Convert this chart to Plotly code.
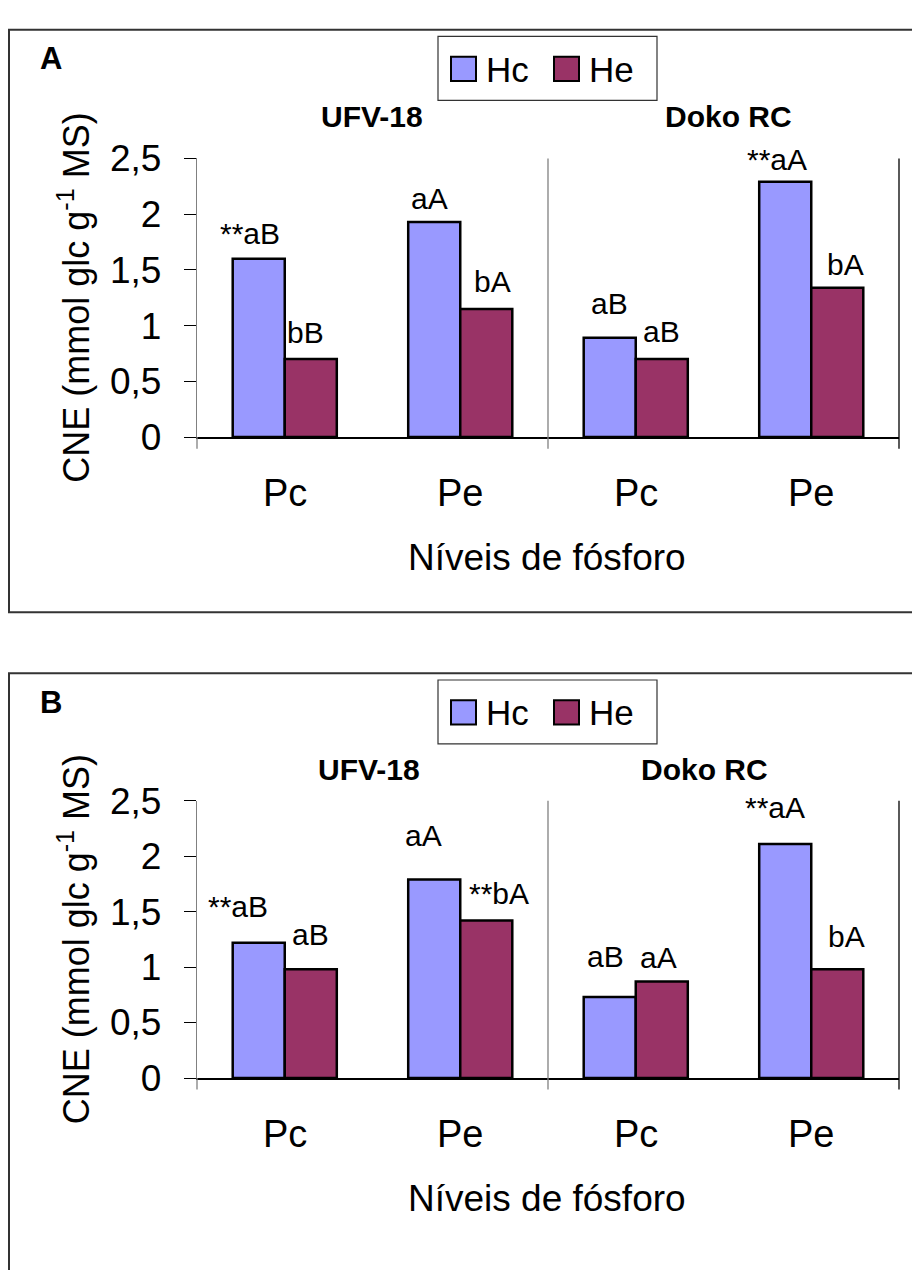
import plotly.graph_objects as go

W, H = 912, 1270

# ---------------- data ----------------
categories = ["Pc", "Pe", "Pc", "Pe"]
genotypes = ["UFV-18", "Doko RC"]
series_names = ["Hc", "He"]
panel_names = ["A", "B"]

a_hc = [1.60, 1.93, 0.89, 2.29]
a_he = [0.70, 1.15, 0.70, 1.34]
b_hc = [1.22, 1.79, 0.73, 2.11]
b_he = [0.98, 1.42, 0.87, 0.98]

a_hc_lab = ["**aB", "aA", "aB", "**aA"]
a_he_lab = ["bB", "bA", "aB", "bA"]
b_hc_lab = ["**aB", "aA", "aB", "**aA"]
b_he_lab = ["aB", "**bA", "aA", "bA"]

y_tickvals = [0, 0.5, 1, 1.5, 2, 2.5]
y_ticktext = ["0", "0,5", "1", "1,5", "2", "2,5"]

y_title = "CNE (mmol glc g<sup>-1</sup> MS)"
x_title = "Níveis de fósforo"

# ---------------- styles ----------------
COL_HC = "#9999FF"
COL_HE = "#993366"
FONT = "Arial, 'Liberation Sans', sans-serif"
BARGAP = 0.407
LAB_FS = 30

# label nudges (pixels): (dx, gap above bar)
a_hc_nudge = [(3, 15), (-5, 13), (0, 24), (3, 12)]
a_he_nudge = [(-5, 16), (6, 17), (0, 17), (8, 13)]
b_hc_nudge = [(-9, 26), (-11, 33), (-4, 30), (1, 26)]
b_he_nudge = [(0, 24), (24, 16), (-3, 13), (9, 22)]


def px(x):
    return x / W


def py(y):
    return 1 - y / H


panels = [
    dict(hc=a_hc, he=a_he, hcl=a_hc_lab, hel=a_he_lab, hcn=a_hc_nudge, hen=a_he_nudge,
         top=143, bot=431, box=(9, 10, 1000, 612), leg_top=17, glab_y=100,
         glab_x=[372, 728], letter_y=40),
    dict(hc=b_hc, he=b_he, hcl=b_hc_lab, hel=b_he_lab, hcn=b_hc_nudge, hen=b_he_nudge,
         top=806.7, bot=1093.3, box=(9, 675, 1000, 1300), leg_top=682, glab_y=775,
         glab_x=[369, 704], letter_y=705),
]

XL, XR = 197, 899

fig = go.Figure()
annotations = []
shapes = []
xpos = list(range(len(categories)))
half = (1 - BARGAP) / 4

for k, p in enumerate(panels):
    sfx = "" if k == 0 else str(k + 1)
    xa, ya = "x" + sfx, "y" + sfx
    for name, vals, col in [(series_names[0], p["hc"], COL_HC), (series_names[1], p["he"], COL_HE)]:
        fig.add_trace(go.Bar(
            x=xpos, y=vals, name=name, xaxis=xa, yaxis=ya, showlegend=False,
            marker=dict(color=col, line=dict(color="black", width=2.5)),
        ))

    dom_y = [py(p["bot"]), py(p["top"])]
    fig.update_layout(**{
        "xaxis" + sfx: dict(
            domain=[px(XL), px(XR)], range=[-0.5, 3.5], anchor=ya,
            tickvals=xpos, showticklabels=False, ticks="", showgrid=False, zeroline=False,
            showline=True, linecolor="black", linewidth=1.5, fixedrange=True,
        ),
        "yaxis" + sfx: dict(
            domain=dom_y, range=[0, 2.5], anchor=xa,
            tickvals=y_tickvals, ticktext=y_ticktext, ticks="outside", ticklen=12,
            tickcolor="black", tickwidth=1.3, showgrid=False, zeroline=False,
            showline=True, linecolor="#808080", linewidth=1.3,
            tickfont=dict(family=FONT, size=37, color="black"), ticklabelstandoff=15,
            fixedrange=True,
        ),
    })

    # category (x tick) labels
    for i, c in enumerate(categories):
        annotations.append(dict(
            x=i, y=dom_y[0], xref=xa, yref="paper", text=c, showarrow=False,
            xanchor="center", yanchor="middle", yshift=-56,
            font=dict(family=FONT, size=38, color="black"),
        ))

    # bar labels
    for vals, labs, nud, sign in [(p["hc"], p["hcl"], p["hcn"], -1), (p["he"], p["hel"], p["hen"], 1)]:
        for i, (v, lab, (dx, gap)) in enumerate(zip(vals, labs, nud)):
            star_shift = 0.389 * LAB_FS if lab.startswith("**") else 0
            annotations.append(dict(
                x=i + sign * half, y=v, xref=xa, yref=ya, text=lab, showarrow=False,
                xanchor="center", yanchor="bottom", xshift=dx - star_shift,
                yshift=gap - 8, font=dict(family=FONT, size=LAB_FS, color="black"),
            ))

    # separators (category boundaries)
    ext = 12 / (p["bot"] - p["top"])
    shapes.append(dict(type="line", xref=xa + " domain", yref=ya + " domain",
                       x0=0, x1=0, y0=-ext, y1=0, line=dict(color="#808080", width=1.3)))
    shapes.append(dict(type="line", xref=xa + " domain", yref=ya + " domain",
                       x0=0.5, x1=0.5, y0=-ext, y1=1, line=dict(color="#808080", width=1.3)))
    shapes.append(dict(type="line", xref=xa + " domain", yref=ya + " domain",
                       x0=1, x1=1, y0=-ext, y1=1, line=dict(color="black", width=1.3)))

    # panel frame
    bx0, by0, bx1, by1 = p["box"]
    shapes.append(dict(type="rect", xref="paper", yref="paper",
                       x0=px(bx0), x1=px(bx1), y0=py(by1), y1=py(by0),
                       line=dict(color="#333333", width=2), fillcolor="rgba(0,0,0,0)"))

    # panel letter
    annotations.append(dict(x=px(51), y=py(p["letter_y"]), xref="paper", yref="paper",
                            text="<b>%s</b>" % panel_names[k], showarrow=False,
                            xanchor="center", yanchor="middle",
                            font=dict(family=FONT, size=31, color="black")))

    # genotype labels
    for g, gx in zip(genotypes, p["glab_x"]):
        annotations.append(dict(x=px(gx), y=py(p["glab_y"]), xref="paper", yref="paper",
                                text="<b>%s</b>" % g, showarrow=False,
                                xanchor="center", yanchor="middle",
                                font=dict(family=FONT, size=30, color="black")))

    # y title
    annotations.append(dict(x=px(74), y=(dom_y[0] + dom_y[1]) / 2, xref="paper", yref="paper",
                            text=y_title, showarrow=False, textangle=-90,
                            xanchor="center", yanchor="middle",
                            font=dict(family=FONT, size=36, color="black")))
    # x title
    annotations.append(dict(x=px(547), y=dom_y[0], xref="paper", yref="paper",
                            text=x_title, showarrow=False, yshift=-120,
                            xanchor="center", yanchor="middle",
                            font=dict(family=FONT, size=37, color="black")))

    # legend (drawn)
    lt = p["leg_top"]
    shapes.append(dict(type="rect", xref="paper", yref="paper",
                       x0=px(438), x1=px(657), y0=py(lt + 66), y1=py(lt),
                       line=dict(color="#333333", width=1.2), fillcolor="white"))
    for name, col, sx, tx in [(series_names[0], COL_HC, 451, 487), (series_names[1], COL_HE, 554, 590)]:
        shapes.append(dict(type="rect", xref="paper", yref="paper",
                           x0=px(sx), x1=px(sx + 25), y0=py(lt + 46), y1=py(lt + 21),
                           line=dict(color="black", width=2), fillcolor=col))
        annotations.append(dict(x=px(tx - 3), y=py(lt + 34), xref="paper", yref="paper",
                                text=name, showarrow=False, xanchor="left", yanchor="middle",
                                font=dict(family=FONT, size=35, color="black")))

fig.update_layout(
    width=W, height=H, barmode="group", bargap=BARGAP, bargroupgap=0,
    margin=dict(l=0, r=0, t=0, b=0),
    paper_bgcolor="white", plot_bgcolor="white",
    annotations=annotations, shapes=shapes, showlegend=False,
)

fig.write_html(
    "out.html",
    config={"responsive": False, "displayModeBar": False},
    post_script="document.body.style.margin='0';document.body.style.overflow='hidden';",
)
